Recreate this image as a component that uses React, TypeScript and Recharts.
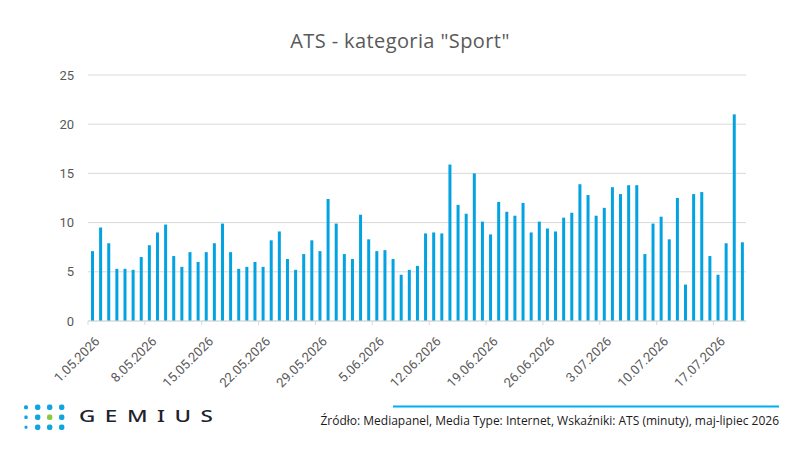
import { BarChart, Bar, XAxis, YAxis, CartesianGrid } from "recharts";

const dates = [
  "1.05.2026", "2.05.2026", "3.05.2026", "4.05.2026", "5.05.2026", "6.05.2026", "7.05.2026",
  "8.05.2026", "9.05.2026", "10.05.2026", "11.05.2026", "12.05.2026", "13.05.2026", "14.05.2026",
  "15.05.2026", "16.05.2026", "17.05.2026", "18.05.2026", "19.05.2026", "20.05.2026", "21.05.2026",
  "22.05.2026", "23.05.2026", "24.05.2026", "25.05.2026", "26.05.2026", "27.05.2026", "28.05.2026",
  "29.05.2026", "30.05.2026", "31.05.2026", "1.06.2026", "2.06.2026", "3.06.2026", "4.06.2026",
  "5.06.2026", "6.06.2026", "7.06.2026", "8.06.2026", "9.06.2026", "10.06.2026", "11.06.2026",
  "12.06.2026", "13.06.2026", "14.06.2026", "15.06.2026", "16.06.2026", "17.06.2026", "18.06.2026",
  "19.06.2026", "20.06.2026", "21.06.2026", "22.06.2026", "23.06.2026", "24.06.2026", "25.06.2026",
  "26.06.2026", "27.06.2026", "28.06.2026", "29.06.2026", "30.06.2026", "1.07.2026", "2.07.2026",
  "3.07.2026", "4.07.2026", "5.07.2026", "6.07.2026", "7.07.2026", "8.07.2026", "9.07.2026",
  "10.07.2026", "11.07.2026", "12.07.2026", "13.07.2026", "14.07.2026", "15.07.2026", "16.07.2026",
  "17.07.2026", "18.07.2026", "19.07.2026", "20.07.2026",
];

// ATS in minutes, one value per day
const atsMay = [
  7.1, 9.5, 7.9, 5.3, 5.3, 5.2, 6.5, 7.7, 9.0, 9.8, 6.6, 5.5, 7.0, 6.0, 7.0, 7.9,
  9.9, 7.0, 5.3, 5.5, 6.0, 5.5, 8.2, 9.1, 6.3, 5.2, 6.8, 8.2, 7.1, 12.4, 9.9,
];
const atsJune = [
  6.8, 6.3, 10.8, 8.3, 7.1, 7.2, 6.3, 4.7, 5.2, 5.6, 8.9, 9.0, 8.9, 15.9, 11.8,
  10.9, 15.0, 10.1, 8.8, 12.1, 11.1, 10.7, 12.0, 9.0, 10.1, 9.4, 9.1, 10.5, 11.0, 13.9,
];
const atsJuly = [
  12.8, 10.7, 11.5, 13.6, 12.9, 13.8, 13.8, 6.8, 9.9, 10.6, 8.3, 12.5, 3.7, 12.9,
  13.1, 6.6, 4.7, 7.9, 21.0, 8.0,
];
const yTicks = [0, 5, 10, 15, 20, 25];

const ats = [...atsMay, ...atsJune, ...atsJuly];
const data = dates.map((d, i) => ({ date: d, ats: ats[i] }));

const PLOT_LEFT = 88;
const PLOT_RIGHT = 746;
const band = (PLOT_RIGHT - PLOT_LEFT) / dates.length;
const axisFont = "Roboto, 'Noto Sans', sans-serif";

function DateTick(props: any) {
  const { x, y, payload } = props;
  const bx = x - band / 2;
  const tx = bx + 12.5;
  const ty = y + 21;
  return (
    <g>
      <line x1={bx} y1={y} x2={bx} y2={y + 4} stroke="#d9d9d9" />
      <g transform={`translate(${tx}, ${ty}) rotate(-45)`}>
        <text x={0} y={0} textAnchor="end" fill="#595959" fontSize={13} fontFamily={axisFont}>
          {payload.value}
        </text>
      </g>
    </g>
  );
}

function Logo() {
  const cols = [26, 37.7, 49.7, 61.7];
  const rows = [407.3, 417.3, 427.3];
  const dots: any[] = [];
  rows.forEach((cy, r) => {
    cols.forEach((cx, c) => {
      const size = c === 0 ? (r === 0 ? 4 : r === 1 ? 3.4 : 3) : 5.4;
      const green = r === 1 && c === 2;
      dots.push(
        <rect
          key={`${r}-${c}`}
          x={cx - size / 2}
          y={cy - size / 2}
          width={size}
          height={size}
          rx={size / 2.6}
          fill={green ? "#8cc63f" : "#0ea5e0"}
        />
      );
    });
  });
  // wide, lightly spaced wordmark
  const sx = 1.45;
  return (
    <g>
      {dots}
      <g transform={`scale(${sx}, 1)`}>
        <text
          x={79 / sx}
          y={422}
          textLength={134 / sx}
          lengthAdjust="spacing"
          fontSize={15.5}
          fontWeight={500}
          fontFamily="'Noto Sans', sans-serif"
          fill="#1d232e"
        >
          GEMIUS
        </text>
      </g>
    </g>
  );
}

export default function App() {
  return (
    <div style={{ position: "absolute", left: 0, top: 0, width: 800, height: 450, background: "#fff" }}>
      <svg width={800} height={450} style={{ position: "absolute", left: 0, top: 0 }}>
        <text
          x={400}
          y={48}
          textAnchor="middle"
          fontSize={20}
          letterSpacing={0.4}
          fontFamily="'Open Sans', sans-serif"
          fill="#595959"
        >
          ATS - kategoria "Sport"
        </text>
        <Logo />
        <rect x={393} y={405.5} width={386} height={2} fill="#00b0f0" />
        <text
          x={779}
          y={425}
          textAnchor="end"
          fontSize={12}
          fontFamily="'Open Sans', sans-serif"
          fill="#1a1a1a"
        >
          Źródło: Mediapanel, Media Type: Internet, Wskaźniki: ATS (minuty), maj-lipiec 2026
        </text>
      </svg>
      <div style={{ position: "absolute", left: 0, top: 0 }}>
        <BarChart
          width={800}
          height={450}
          data={data}
          margin={{ top: 75, right: 800 - PLOT_RIGHT, bottom: 89, left: PLOT_LEFT - 60 }}
          barCategoryGap={0}
        >
          <CartesianGrid vertical={false} stroke="#d9d9d9" />
          <XAxis
            dataKey="date"
            interval={6}
            height={40}
            tickSize={0}
            tickMargin={0}
            tickLine={false}
            axisLine={{ stroke: "#d9d9d9" }}
            tick={<DateTick />}
          />
          <YAxis
            width={60}
            domain={[0, 25]}
            ticks={yTicks}
            axisLine={false}
            tickLine={false}
            tickSize={6}
            tickMargin={8}
            tick={{ fill: "#595959", fontSize: 13, fontFamily: axisFont }}
          />
          <Bar dataKey="ats" fill="#02a3e0" barSize={3} isAnimationActive={false} />
        </BarChart>
      </div>
    </div>
  );
}
